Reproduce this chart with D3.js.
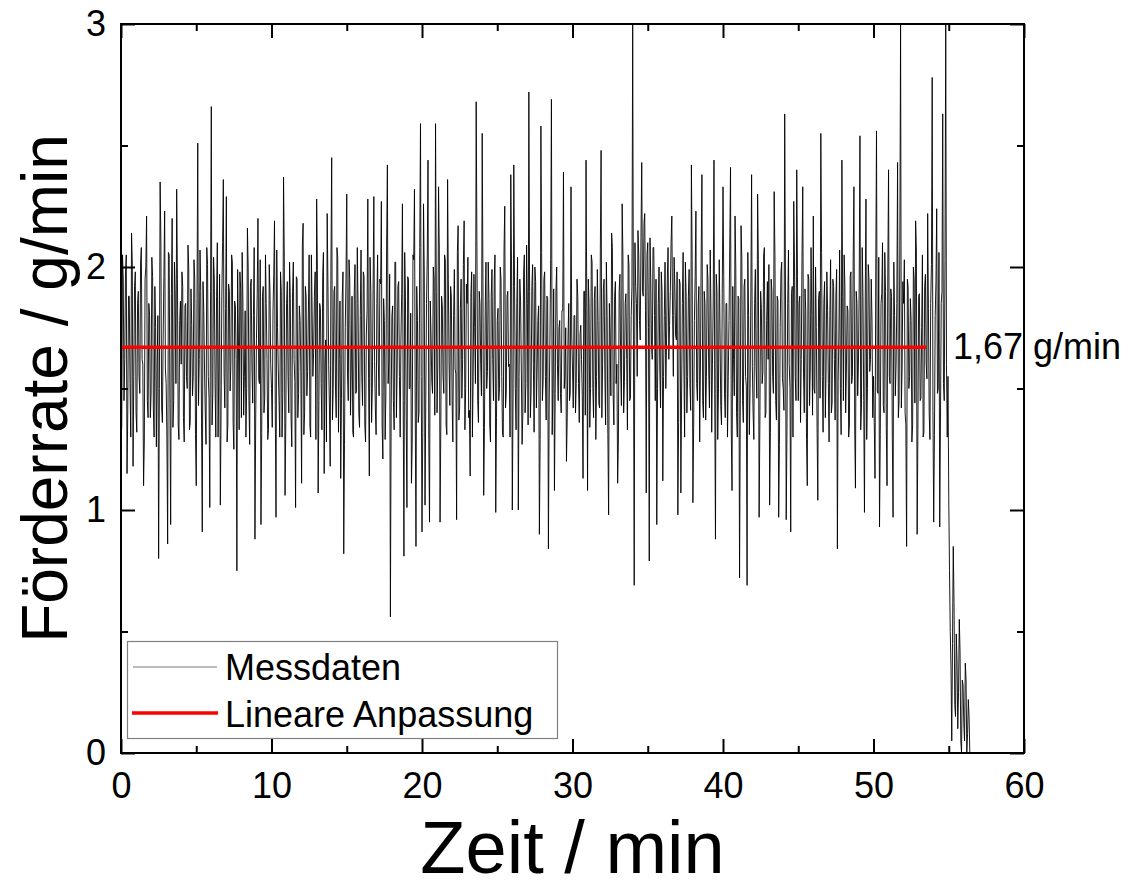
<!DOCTYPE html>
<html><head><meta charset="utf-8">
<script src="https://cdn.jsdelivr.net/npm/d3@7"></script>
<style>body{margin:0;background:#fff}</style>
</head><body>
<svg id="c" width="1135" height="889"></svg>
<script>
// ---- data ----
const sampleInterval = 0.1; // minutes between samples in `rate`
// samples at t = i * sampleInterval
const rate = [
1.26,2.05,1.45,1.98,1.15,1.88,1.52,2.14,1.18,1.92,
1.40,1.85,1.55,2.02,1.62,1.10,1.95,2.21,1.38,1.80,
1.48,1.96,1.30,1.75,1.58,0.80,2.35,1.42,1.70,2.23,
1.52,0.86,2.05,0.94,2.20,1.45,1.88,2.32,1.35,1.78,
1.60,1.92,1.28,1.85,1.50,2.00,1.36,1.76,1.55,1.95,
1.10,2.51,1.62,1.90,0.91,1.82,1.40,2.08,1.55,1.01,
2.66,1.48,1.95,1.30,2.10,1.58,1.02,1.88,2.36,1.42,
2.29,1.35,1.90,1.60,2.02,1.25,1.84,0.75,1.72,1.98,
1.38,1.86,1.55,1.30,2.16,1.45,1.92,1.60,1.80,0.88,
1.70,2.20,1.52,0.94,1.88,1.40,2.05,1.62,1.33,1.90,
1.50,1.82,2.19,0.97,1.75,1.45,1.98,1.30,2.37,1.06,
1.85,1.55,2.02,1.38,1.90,1.62,1.01,1.95,1.48,1.78,
1.11,2.18,1.40,1.88,1.57,2.05,1.30,1.82,1.65,1.98,
2.28,1.07,1.85,1.52,1.96,1.15,1.70,2.22,1.60,1.18,
2.45,1.50,1.92,1.38,2.04,1.62,1.13,1.88,0.82,1.75,
2.30,1.45,1.95,1.58,1.32,1.90,1.48,2.08,1.40,1.80,
1.55,1.98,1.35,1.72,2.28,1.14,1.90,1.50,2.29,1.42,
1.85,1.60,1.95,2.27,1.21,1.78,1.48,2.42,1.62,0.56,
1.80,1.45,2.02,1.38,1.92,1.55,1.70,2.26,0.81,1.88,
1.01,1.95,1.50,1.11,2.05,2.32,0.85,1.78,1.40,2.59,
0.91,2.26,1.02,1.85,2.44,0.95,1.72,1.48,1.95,2.59,
1.40,2.33,0.95,1.88,1.55,2.05,1.35,2.36,1.60,1.92,
1.45,1.80,1.58,0.96,2.17,1.42,1.95,1.62,2.19,1.50,
1.85,1.38,1.14,1.98,1.55,1.75,2.68,1.45,1.90,1.60,
2.55,1.06,1.82,1.50,2.02,1.35,1.88,1.62,1.95,0.99,
1.78,1.45,2.00,1.55,1.30,2.25,1.48,1.90,1.60,2.38,
1.00,2.42,1.50,1.85,1.00,1.95,1.58,1.40,2.05,1.52,
1.85,2.72,1.38,1.92,1.60,2.00,1.42,1.78,0.90,2.58,
1.45,1.95,1.55,1.88,0.84,1.70,2.69,1.50,1.08,1.90,
1.60,1.75,1.48,1.82,2.39,1.55,1.20,1.70,1.45,2.33,
1.58,1.80,1.40,1.95,1.52,1.72,1.62,1.13,1.90,2.44,
1.08,1.85,1.50,2.02,1.38,1.92,1.55,1.78,1.42,2.48,
1.60,1.95,1.35,1.80,0.98,1.72,2.14,1.48,1.88,1.52,
1.11,1.90,1.58,2.26,1.40,1.85,1.62,2.05,1.45,1.80,
3.00,0.69,1.92,1.55,2.05,1.70,2.43,1.88,2.22,1.07,
2.10,0.79,1.95,1.62,2.08,1.45,0.94,1.85,1.58,1.98,
1.12,1.80,1.50,1.95,1.62,1.90,2.21,1.55,1.92,1.70,
0.98,1.95,1.07,1.85,1.60,2.02,1.40,1.88,1.52,2.42,
1.03,1.78,2.23,1.45,1.92,1.58,2.38,1.38,1.85,1.55,
1.95,1.42,1.82,1.60,2.44,0.88,1.90,1.50,1.75,1.35,
2.33,1.48,1.85,1.30,1.78,2.41,1.08,1.62,2.21,1.40,
1.88,0.72,2.17,1.45,1.92,1.55,0.69,1.80,1.50,2.38,
1.40,1.85,1.58,2.30,0.97,1.90,1.52,2.05,1.38,1.78,
1.62,1.02,1.95,1.55,2.31,1.45,1.88,0.97,1.75,2.02,
1.50,2.63,0.96,1.85,1.60,0.91,1.92,2.27,1.55,2.40,
1.45,1.88,1.62,2.33,1.40,1.82,1.10,1.95,1.58,1.80,
2.21,1.48,1.75,1.04,1.90,2.55,1.55,1.85,1.38,1.98,
1.52,1.80,1.40,1.95,1.62,1.88,0.84,1.72,1.50,2.44,
1.45,1.92,1.58,1.82,1.35,1.98,1.55,2.33,1.09,1.85,
1.60,2.54,1.42,1.88,0.99,2.28,1.50,1.95,1.62,1.78,
1.55,1.13,2.56,1.48,0.93,1.85,2.10,1.40,1.90,1.10,
2.40,1.52,1.88,0.97,1.80,1.60,2.43,1.45,3.00,1.58,
1.85,1.40,0.85,1.92,1.55,1.78,1.35,1.95,2.19,0.90,
1.88,1.45,1.75,1.30,1.92,1.60,2.22,1.40,1.85,2.78,
0.95,1.80,2.24,1.50,0.93,1.85,2.63,1.45,3.00,1.30,
1.05,0.50,0.05,0.85,0.20,0.49,0.10,0.55,0.05,0.30,
0.12,0.37,0.00,0.22,0.00
];
// samples half-way between, at t = (i + 0.5) * sampleInterval
const rateMid = [
1.35,1.95,1.62,2.05,1.40,1.88,1.30,2.02,1.55,1.98,
1.32,1.90,1.48,2.08,1.60,1.28,2.00,1.45,1.85,1.38,
2.04,1.42,1.92,1.26,1.80,1.50,2.10,1.36,1.96,1.58,
1.30,2.06,1.44,1.89,1.34,2.02,1.52,1.95,1.29,1.86,
1.98,1.38,1.84,1.55,2.09,1.33,1.91,1.47,2.03,1.31,
1.87,1.43,2.07,1.37,1.94,1.58,1.27,2.01,1.46,1.90,
1.35,2.04,1.52,1.88,1.30,1.97,1.41,2.10,1.56,1.83,
1.28,1.93,1.49,2.05,1.36,1.86,1.62,1.99,1.33,1.91,
2.06,1.39,1.82,1.50,2.00,1.27,1.95,1.44,2.08,1.37,
1.89,1.54,2.03,1.32,1.92,1.46,1.85,1.29,2.01,1.60,
1.34,1.97,1.43,2.07,1.58,1.30,1.90,1.48,2.04,1.36,
1.94,1.40,1.87,1.26,2.02,1.53,1.96,1.38,1.84,1.57,
2.09,1.31,1.92,1.47,1.81,1.35,2.05,1.55,1.88,1.29,
1.99,1.45,1.83,1.33,2.06,1.60,1.28,1.93,1.42,2.02,
1.37,1.90,1.51,2.08,1.32,1.86,1.46,1.98,1.27,1.95,
1.56,2.03,1.39,1.88,1.30,2.01,1.49,1.85,1.34,2.07,
1.43,1.96,1.28,1.82,1.54,2.04,1.36,1.91,1.61,1.31,
2.05,1.47,1.93,1.35,1.87,1.29,2.09,1.52,1.97,1.40,
1.84,1.33,2.02,1.58,1.94,1.30,1.89,1.45,2.06,1.38,
1.96,1.50,1.81,1.27,2.03,1.42,1.92,1.36,2.08,1.55,
1.32,1.98,1.44,2.05,1.29,1.86,1.53,2.00,1.39,1.90,
1.60,2.07,1.35,1.84,1.48,2.03,1.31,1.95,1.43,1.88,
1.28,1.99,1.56,2.06,1.37,1.83,1.46,2.01,1.33,1.93,
2.04,1.41,1.89,1.30,1.97,1.52,2.08,1.36,1.85,1.47,
1.94,1.34,2.02,1.57,1.87,1.28,1.99,1.45,2.05,1.38,
1.83,1.50,1.95,1.31,2.07,1.42,1.88,1.59,1.30,2.00,
1.46,1.92,1.33,2.04,1.55,1.86,1.27,1.97,1.40,2.09,
1.35,1.90,1.49,2.01,1.32,1.94,1.58,1.84,1.29,2.06,
1.53,1.98,1.37,1.87,1.44,2.03,1.31,1.91,1.48,2.00,
1.45,1.78,1.40,1.82,1.50,1.75,1.38,1.85,1.48,1.72,
1.42,1.80,1.52,1.88,1.36,1.76,1.47,1.90,1.39,1.83,
1.95,1.34,2.05,1.50,1.87,1.29,1.99,1.44,2.07,1.38,
1.91,1.56,2.02,1.31,1.85,1.47,2.08,1.35,1.94,1.60,
1.28,1.97,1.43,2.04,1.53,1.89,1.33,2.01,1.46,1.92,
1.70,2.10,1.85,2.15,1.78,2.12,1.90,2.18,1.82,2.05,
1.75,2.12,1.68,2.08,1.80,1.95,1.50,2.00,1.42,1.90,
1.55,2.02,1.70,2.08,1.76,2.10,1.80,2.04,1.72,1.98,
1.36,1.93,1.49,2.06,1.30,1.88,1.55,1.99,1.41,2.03,
1.34,1.96,1.52,1.84,1.28,2.05,1.45,1.90,1.37,2.01,
1.58,2.07,1.32,1.86,1.48,1.97,1.29,2.03,1.43,1.89,
1.96,1.38,1.85,1.55,2.09,1.33,1.92,1.47,2.00,1.30,
1.87,1.44,2.04,1.36,1.95,1.51,2.06,1.31,1.88,1.59,
1.29,1.99,1.46,2.03,1.35,1.83,1.57,2.08,1.40,1.94,
2.01,1.32,1.90,1.48,2.05,1.37,1.86,1.27,1.98,1.54,
1.41,1.93,1.33,2.07,1.50,1.89,1.30,2.02,1.45,1.96,
1.85,1.36,2.04,1.56,1.91,1.29,1.97,1.43,2.08,1.39,
1.50,2.00,1.34,1.87,1.46,2.06,1.32,1.94,1.58,1.82,
1.28,2.03,1.44,1.92,1.37,1.99,1.53,2.07,1.31,1.88,
2.05,1.40,1.84,1.30,1.96,1.52,2.02,1.35,1.90,1.47,
1.93,1.33,2.08,1.45,1.86,1.29,2.01,1.57,1.95,1.38,
1.36,1.98,1.49,2.04,1.31,1.89,1.43,2.06,1.34,1.97,
1.55,1.91,1.30,2.02,1.47,1.85,1.38,2.09,1.42,1.94,
2.03,1.35,1.95,1.50,1.87,1.28,2.00,1.44,2.07,1.33,
1.89,1.46,2.05,1.32,1.97,1.54,1.83,1.29,2.01,1.41,
1.31,1.94,1.48,2.06,1.37,1.90,1.52,2.03,1.60,1.55,
0.75,0.35,0.45,0.62,0.15,0.38,0.25,0.42,0.00,0.28,
0.05,0.30,0.08,0.15
];
const fitValue = 1.67;
const fitRange = [0, 53.5];
const xDomain = [0, 60];
const yDomain = [0, 3];
const xMajor = [0, 10, 20, 30, 40, 50, 60];
const xMinor = [5, 15, 25, 35, 45, 55];
const yMajor = [0, 1, 2, 3];
const yMinor = [0.5, 1.5, 2.5];
const legendLabels = ["Messdaten", "Lineare Anpassung"];
const annotationText = "1,67 g/min";
const xTitle = "Zeit / min";
const yTitle = "Förderrate / g/min";

// ---- drawing ----
const FONT = "'Liberation Sans', Arial, Helvetica, sans-serif";
const m = {l: 121, r: 1024, t: 24, b: 753};
const svg = d3.select("#c");
const x = d3.scaleLinear().domain(xDomain).range([m.l, m.r]);
const y = d3.scaleLinear().domain(yDomain).range([m.b, m.t]);

svg.append("defs").append("clipPath").attr("id", "clip")
  .append("rect").attr("x", m.l).attr("y", m.t - 1).attr("width", m.r - m.l).attr("height", m.b - m.t + 1);

const pts = [];
rate.forEach((v, i) => {
  pts.push({t: i * sampleInterval, v});
  if (i < rateMid.length) pts.push({t: (i + 0.5) * sampleInterval, v: rateMid[i]});
});
const line = d3.line().x(d => x(d.t)).y(d => y(d.v));

svg.append("path").datum(pts).attr("d", line)
  .attr("fill", "none").attr("stroke", "#000").attr("stroke-width", 0.9)
  .attr("stroke-linejoin", "miter").attr("clip-path", "url(#clip)");

svg.append("path").datum(fitRange.map(t => ({t, v: fitValue}))).attr("d", line)
  .attr("fill", "none").attr("stroke", "#ff0000").attr("stroke-width", 3.5);

function styleAxis(g, labels) {
  g.select(".domain").remove();
  g.selectAll(".tick line").attr("stroke", "#000").attr("stroke-width", 2);
  g.selectAll(".tick text").attr("font-family", FONT).attr("font-size", 36).attr("fill", "#000");
  if (!labels) g.selectAll(".tick text").remove();
}
// bottom
svg.append("g").attr("transform", `translate(0,${m.b})`)
  .call(d3.axisBottom(x).tickValues(xMajor).tickSize(-14).tickPadding(19).tickFormat(d3.format("d")))
  .call(g => styleAxis(g, true));
svg.append("g").attr("transform", `translate(0,${m.b})`)
  .call(d3.axisBottom(x).tickValues(xMinor).tickSize(-7)).call(g => styleAxis(g, false));
// top
svg.append("g").attr("transform", `translate(0,${m.t})`)
  .call(d3.axisTop(x).tickValues(xMajor).tickSize(-14)).call(g => styleAxis(g, false));
svg.append("g").attr("transform", `translate(0,${m.t})`)
  .call(d3.axisTop(x).tickValues(xMinor).tickSize(-7)).call(g => styleAxis(g, false));
// left
svg.append("g").attr("transform", `translate(${m.l},0)`)
  .call(d3.axisLeft(y).tickValues(yMajor).tickSize(-14).tickPadding(15).tickFormat(d3.format("d")))
  .call(g => styleAxis(g, true));
svg.append("g").attr("transform", `translate(${m.l},0)`)
  .call(d3.axisLeft(y).tickValues(yMinor).tickSize(-7)).call(g => styleAxis(g, false));
// right
svg.append("g").attr("transform", `translate(${m.r},0)`)
  .call(d3.axisRight(y).tickValues(yMajor).tickSize(-14)).call(g => styleAxis(g, false));
svg.append("g").attr("transform", `translate(${m.r},0)`)
  .call(d3.axisRight(y).tickValues(yMinor).tickSize(-7)).call(g => styleAxis(g, false));

// frame
svg.append("rect").attr("x", m.l).attr("y", m.t).attr("width", m.r - m.l).attr("height", m.b - m.t)
  .attr("fill", "none").attr("stroke", "#000").attr("stroke-width", 2);

// legend
const lg = svg.append("g");
lg.append("rect").attr("x", 127.5).attr("y", 641.5).attr("width", 430).attr("height", 97)
  .attr("fill", "#fff").attr("stroke", "#808080").attr("stroke-width", 1.2);
lg.append("line").attr("x1", 133).attr("x2", 217).attr("y1", 667).attr("y2", 667)
  .attr("stroke", "#777").attr("stroke-width", 1);
lg.append("line").attr("x1", 132).attr("x2", 218).attr("y1", 713).attr("y2", 713)
  .attr("stroke", "#ff0000").attr("stroke-width", 3.5);
lg.selectAll("text").data(legendLabels).join("text")
  .attr("x", 225).attr("y", (d, i) => 680 + i * 47)
  .attr("font-family", FONT).attr("font-size", 36).attr("fill", "#000").text(d => d);

// annotation
svg.append("text").attr("x", 953).attr("y", y(fitValue) + 12)
  .attr("font-family", FONT).attr("font-size", 36).attr("fill", "#000").text(annotationText);

// axis titles
svg.append("text").attr("x", (m.l + m.r) / 2).attr("y", 873).attr("text-anchor", "middle")
  .attr("font-family", FONT).attr("font-size", 74).attr("fill", "#000").text(xTitle);
svg.append("text").attr("transform", `translate(67,${(m.t + m.b) / 2}) rotate(-90)`)
  .attr("text-anchor", "middle")
  .attr("font-family", FONT).attr("font-size", 64).attr("fill", "#000").text(yTitle);
</script>
</body></html>
